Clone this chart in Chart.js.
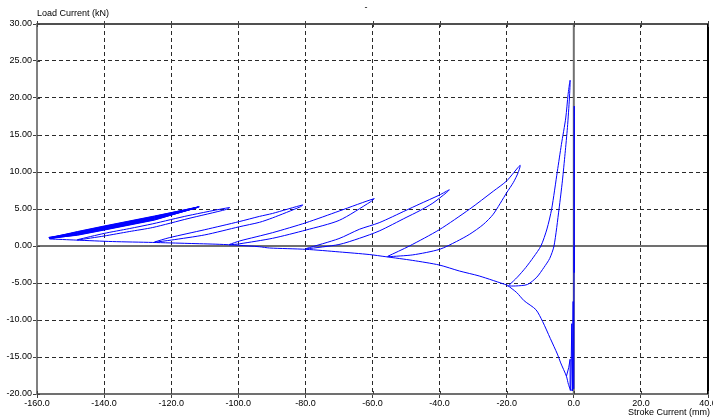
<!DOCTYPE html>
<html>
<head>
<meta charset="utf-8">
<script src="https://cdn.jsdelivr.net/npm/chart.js@4.4.1/dist/chart.umd.min.js"></script>
<style>
	html, body { margin: 0; padding: 0; background: #fff; }
	#wrap { width: 713px; height: 419px; }
</style>
</head>
<body>
<div id="wrap"><canvas id="chart" width="713" height="419"></canvas></div>
<script>
// tick values of both axes
const strokeTicks = [-160, -140, -120, -100, -80, -60, -40, -20, 0, 20, 40];
const loadTicks = [-20, -15, -10, -5, 0, 5, 10, 15, 20, 25, 30];

// [stroke (mm), load (kN)], one array per traced piece of the curve
const zeroSpike = [[0.1, 0], [0.15, 18.9], [0.15, -3.6], [0.1, 17.5], [0.0, -19.3], [-0.2, -7.5], [-0.4, -19.6], [-0.6, -10.5], [-0.9, -19.5], [-1.1, -15.3], [-1.5, -16.4], [-2.2, -17.6]];
const descentToMin = [[-19.8, -5.3], [-17, -6.3], [-14.8, -7.4], [-11.3, -8.6], [-9.3, -10.2], [-7, -12.5], [-4.9, -14.6], [-3.9, -15.8], [-2.2, -17.6], [-1.6, -18.7], [-1.0, -19.4], [-0.5, -19.5]];
const loopPeak22 = [[-19.3, -5.3], [-16.8, -4.2], [-14.3, -2.9], [-12, -1.5], [-9.8, 0], [-8, 2.3], [-6.6, 5.0], [-4.9, 10.1], [-3.7, 13.7], [-2.4, 17.3], [-1.7, 20.5], [-1.1, 22.4], [-1.3, 20.0], [-1.9, 16.0], [-2.6, 12.5], [-3.4, 8.8], [-4.4, 5.0], [-5.9, 0], [-7.2, -1.7], [-8.9, -2.9], [-11, -4.2], [-13.8, -5.2], [-17.3, -5.4], [-19.8, -5.4]];
const loopPeak11 = [[-55.5, -1.4], [-49, 0], [-40.1, 2.2], [-31, 5.0], [-24, 7.4], [-20, 8.8], [-16, 10.9], [-16.6, 9.9], [-18, 8.6], [-20, 7.2], [-24, 4.3], [-27, 2.9], [-31, 1.6], [-35, 0.6], [-40, -0.45], [-48, -1.2], [-55.5, -1.45]];
const loopPeak8 = [[-79.8, -0.35], [-70, 1.0], [-63.9, 2.26], [-58, 3.15], [-50, 4.82], [-46.1, 5.64], [-40, 6.9], [-37.1, 7.6], [-38, 7.2], [-42, 5.8], [-46.1, 4.73], [-50, 3.85], [-58, 2.03], [-63.9, 1.04], [-70, 0.2], [-79.8, -0.4]];
const loopPeak6 = [[-102.7, 0.2], [-99.6, 0.68], [-89.8, 1.8], [-79.8, 3.15], [-69.9, 4.73], [-59.5, 6.4], [-60.5, 6.0], [-69.9, 3.47], [-79.8, 2.16], [-89.8, 1.04], [-99.6, 0.3], [-102.7, 0.15]];
const loopPeak55 = [[-125, 0.54], [-120.6, 1.12], [-110, 2.2], [-99.7, 3.3], [-93.7, 4.0], [-89.8, 4.4], [-80.8, 5.55], [-81.5, 5.3], [-89.8, 3.8], [-93.7, 3.2], [-99.7, 2.6], [-110, 1.5], [-120, 0.8], [-125, 0.5]];
const loopPeak52 = [[-148, 0.85], [-140, 1.7], [-132.5, 2.35], [-125.5, 3.0], [-115, 4.1], [-102.6, 5.2], [-103.5, 4.95], [-115, 3.7], [-125.5, 2.5], [-132.5, 1.95], [-140, 1.35], [-148, 0.8]];
const denseCycles = [
	[-156.3, 1.1], [-148, 1.95], [-140, 2.7], [-125, 4.05], [-112, 5.25], [-125, 3.75], [-140, 2.4], [-148, 1.7], [-156.0, 1.05],
	[-148, 1.9], [-140, 2.65], [-125, 4.0], [-111.8, 5.3], [-125, 3.7], [-140, 2.35], [-148, 1.65], [-156.5, 1.15],
	[-148, 1.85], [-140, 2.6], [-125, 3.95], [-112.3, 5.2], [-125, 3.65], [-140, 2.3], [-148, 1.6], [-156.2, 1.1],
	[-148, 1.8], [-140, 2.55], [-125, 3.9], [-112.5, 5.15], [-125, 3.6], [-140, 2.25], [-148, 1.55], [-156.4, 1.05],
	[-148, 1.75], [-140, 2.5], [-125, 3.85], [-112.8, 5.1], [-125, 3.55], [-140, 2.2], [-148, 1.5], [-156.1, 1.0],
	[-148, 1.7], [-140, 2.45], [-125, 3.8], [-111.6, 5.3], [-125, 3.5], [-140, 2.15], [-148, 1.45], [-156.3, 1.05]
];
const backbone = [[-156.3, 0.95], [-148.4, 0.8], [-137.5, 0.6], [-125.5, 0.48], [-115, 0.35], [-105.7, 0.23], [-100, 0.1], [-93.7, -0.1], [-90.7, -0.27], [-79.8, -0.45], [-69.9, -0.8], [-61, -1.15], [-56, -1.45], [-48, -1.95], [-40.1, -2.57], [-34.1, -3.38], [-28.2, -4.05], [-19.8, -5.3]];

const smoothSegments = [backbone, loopPeak52, loopPeak55, loopPeak6, loopPeak8, loopPeak11, loopPeak22, descentToMin];
const sharpSegments = [denseCycles, zeroSpike];

Chart.defaults.font.family = "'Liberation Sans', Arial, sans-serif";
Chart.defaults.font.size = 9;
Chart.defaults.color = "#000";

// zero lines, closing frame, inner tick stubs and the axis captions
const framePlugin = {
	id: "frame",
	beforeDatasetsDraw(chart) {
		const {ctx, chartArea: a, scales: {x, y}} = chart;
		ctx.save();
		ctx.lineWidth = 2;
		ctx.strokeStyle = "#707070";
		const y0 = y.getPixelForValue(0), x0 = x.getPixelForValue(0);
		ctx.beginPath();
		ctx.moveTo(a.left, y0); ctx.lineTo(a.right, y0);
		ctx.moveTo(x0, a.top); ctx.lineTo(x0, a.bottom);
		ctx.stroke();

		ctx.strokeStyle = "#505050";
		ctx.beginPath();
		ctx.moveTo(a.left, a.top); ctx.lineTo(a.right, a.top);
		ctx.stroke();
		ctx.strokeStyle = "#000";
		ctx.beginPath();
		ctx.moveTo(a.right, a.top); ctx.lineTo(a.right, a.bottom);
		ctx.stroke();

		ctx.lineWidth = 1;
		ctx.strokeStyle = "#404040";
		ctx.beginPath();
		strokeTicks.forEach(v => {
			const px = Math.round(x.getPixelForValue(v)) + 0.5;
			ctx.moveTo(px, a.top - 3); ctx.lineTo(px, a.top + 3);
			ctx.moveTo(px, a.bottom); ctx.lineTo(px, a.bottom - 3);
		});
		loadTicks.forEach(v => {
			const py = Math.round(y.getPixelForValue(v)) + 0.5;
			ctx.moveTo(a.left, py); ctx.lineTo(a.left + 3, py);
		});
		ctx.stroke();
		ctx.restore();
	},
	afterDraw(chart) {
		const {ctx, chartArea: a} = chart;
		ctx.save();
		ctx.fillStyle = "#000";
		ctx.font = "9px 'Liberation Sans', Arial, sans-serif";
		ctx.textBaseline = "middle";
		ctx.textAlign = "left";
		ctx.fillText("Load Current (kN)", a.left, 14);
		ctx.textAlign = "right";
		ctx.fillText("Stroke Current (mm)", 710, 413);
		ctx.textAlign = "center";
		ctx.fillText("-", 366, 8);
		ctx.restore();
	}
};

const gridColor = (edges) => (ctx) => {
	const v = ctx.tick && ctx.tick.value;
	return (v === 0 || edges.includes(v)) ? "rgba(0,0,0,0)" : "#2a2a2a";
};

const toDataset = (seg, tension) => ({
	data: seg.map(p => ({x: p[0], y: p[1]})),
	showLine: true,
	borderColor: "#0000ff",
	borderWidth: 1,
	pointRadius: 0,
	fill: false,
	tension
});

const datasets = [
	...sharpSegments.map(seg => toDataset(seg, 0)),
	...smoothSegments.map(seg => toDataset(seg, 0.25))
];

new Chart(document.getElementById("chart").getContext("2d"), {
	type: "scatter",
	data: {datasets},
	plugins: [framePlugin],
	options: {
		responsive: false,
		animation: false,
		layout: {padding: {top: 24, right: 5, left: 0, bottom: 0}},
		plugins: {legend: {display: false}, tooltip: {enabled: false}},
		scales: {
			x: {
				type: "linear",
				min: -160,
				max: 40,
				afterBuildTicks: (scale) => { scale.ticks = strokeTicks.map(v => ({value: v})); },
				afterFit: (scale) => { scale.height = 25; scale.paddingLeft = 0; scale.paddingRight = 0; },
				ticks: {autoSkip: false, maxRotation: 0, padding: 0, callback: v => v.toFixed(1)},
				grid: {color: gridColor([-160, 40]), lineWidth: 1, tickLength: 4, tickColor: "#404040"},
				border: {color: "#707070", width: 2, dash: [4, 3]}
			},
			y: {
				type: "linear",
				min: -20,
				max: 30,
				afterBuildTicks: (scale) => { scale.ticks = loadTicks.map(v => ({value: v})); },
				afterFit: (scale) => { scale.width = 37; },
				ticks: {autoSkip: false, padding: 1, callback: v => v.toFixed(2)},
				grid: {color: gridColor([30]), lineWidth: 1, tickLength: 4, tickColor: "#404040"},
				border: {color: "#808080", width: 2, dash: [4, 3]}
			}
		}
	}
});
</script>
</body>
</html>
